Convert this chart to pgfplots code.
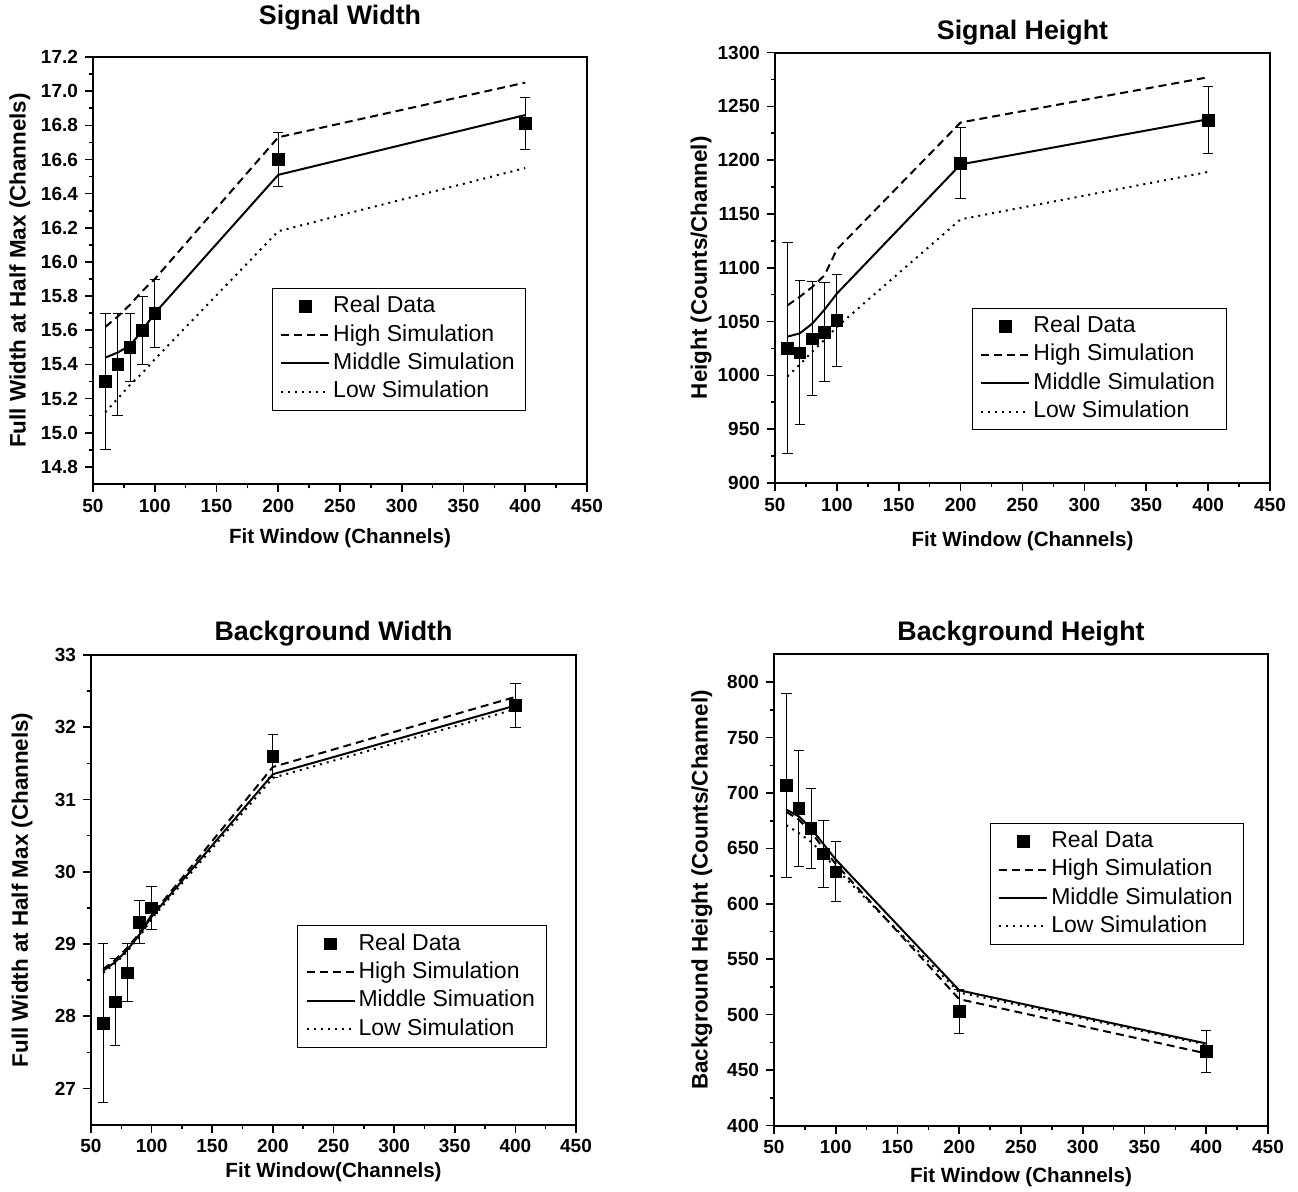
\documentclass[border=0pt]{standalone}
\usepackage{fontspec}
\setmainfont{Liberation Sans}
\usepackage{pgfplots}
\pgfplotsset{compat=1.18}

\pgfplotsset{
  panel/.style={
    scale only axis,
    axis line style={line width=1pt},
    tick align=outside, tick pos=left,
    major tick length=4pt, minor tick length=2.2pt,
    every tick/.style={black, line width=0.8pt},
    minor tick num=1,
    xmin=50, xmax=450, xtick={50,100,...,450},
    tick label style={font=\bfseries\fontsize{9.5}{11}\selectfont},
    /pgf/number format/assume math mode=true,
    /pgf/number format/1000 sep={},
    xlabel style={font=\bfseries\fontsize{10.3}{12}\selectfont, at={(axis description cs:0.5,0)}, anchor=center},
    ylabel style={font=\bfseries\fontsize{11.2}{13}\selectfont},
    title style={font=\bfseries\fontsize{13.4}{15}\selectfont, at={(axis description cs:0.5,1)}, anchor=center},
    legend cell align=left,
    legend style={draw=black, font=\fontsize{11.5}{13}\selectfont, inner xsep=4pt, inner ysep=2pt, anchor=north west,
      nodes={inner sep=1.5pt, text height=8.6pt, text depth=2.6pt}},
    legend image code/.code={\draw[#1] (0pt,0pt) -- (24pt,0pt);},
  },
  realdata/.style={black, fill=black, only marks, mark=square*, mark size=2.9pt,
    legend image code/.code={\path (0pt,0pt) (24pt,0pt); \draw[black, fill=black, mark=square*, mark size=2.9pt, only marks] plot coordinates {(12pt,0pt)};},
    error bars/.cd, y dir=both, y explicit,
    error bar style={line width=0.5pt, black},
    error mark options={rotate=90, mark size=2.6pt, line width=0.5pt, black}},
  highsim/.style={black, line width=1pt, dash pattern=on 4pt off 2.5pt, no marks},
  midsim/.style={black, line width=1pt, solid, no marks},
  lowsim/.style={black, line width=1pt, dash pattern=on 1pt off 2.5pt, no marks},
}

\begin{document}
\begin{tikzpicture}
\useasboundingbox (0,0) rectangle (649pt,-596pt);

% ---------------- Signal Width ----------------
\begin{axis}[panel, at={(46.5pt,-242pt)}, anchor=south west, width=247pt, height=213.5pt,
  ymin=14.7, ymax=17.2,
  ytick={14.8,15,15.2,15.4,15.6,15.8,16,16.2,16.4,16.6,16.8,17,17.2},
  yticklabel style={/pgf/number format/.cd, fixed, fixed zerofill, precision=1},
  title={Signal Width}, title style={yshift=13.5pt},
  xlabel={Fit Window (Channels)}, xlabel style={yshift=-27pt},
  ylabel={Full Width at Half Max (Channels)}, ylabel style={at={(axis description cs:-0.148,0.5)}, anchor=center},
  legend style={at={(axis description cs:0.362,0.459)}},
]
\addplot[realdata] table[x=x, y=y, y error=e] {
x y e
60 15.30 0.40
70 15.40 0.30
80 15.50 0.20
90 15.60 0.20
100 15.70 0.20
200 16.60 0.16
400 16.81 0.15
};
\addlegendentry{Real Data}
\addplot[highsim] table {
60 15.62
70 15.68
80 15.75
90 15.83
100 15.90
200 16.73
400 17.05
};
\addlegendentry{High Simulation}
\addplot[midsim] table {
60 15.44
70 15.47
80 15.51
90 15.60
100 15.70
200 16.51
400 16.86
};
\addlegendentry{Middle Simulation}
\addplot[lowsim] table {
60 15.12
70 15.20
80 15.28
90 15.35
100 15.43
200 16.18
400 16.55
};
\addlegendentry{Low Simulation}
\end{axis}

% ---------------- Signal Height ----------------
\begin{axis}[panel, at={(387.5pt,-241.5pt)}, anchor=south west, width=247.5pt, height=215.25pt,
  ymin=900, ymax=1300, ytick={900,950,...,1300},
  title={Signal Height}, title style={yshift=3.75pt},
  xlabel={Fit Window (Channels)}, xlabel style={yshift=-29pt},
  ylabel={Height (Counts/Channel)}, ylabel style={at={(axis description cs:-0.149,0.5)}, anchor=center},
  legend style={at={(axis description cs:0.398,0.407)}},
]
\addplot[realdata] table[x=x, y=y, y error=e] {
x y e
60 1025 98
70 1021 67
80 1034 53
90 1040 46
100 1051 43
200 1197 33
400 1237 31
};
\addlegendentry{Real Data}
\addplot[highsim] table {
60 1065
70 1073
80 1082
90 1093
100 1117
200 1235
400 1277
};
\addlegendentry{High Simulation}
\addplot[midsim] table {
60 1036
70 1039
80 1048
90 1061
100 1076
200 1196
400 1238
};
\addlegendentry{Middle Simulation}
\addplot[lowsim] table {
60 999
70 1010
80 1022
90 1033
100 1045
200 1145
400 1189
};
\addlegendentry{Low Simulation}
\end{axis}

% ---------------- Background Width ----------------
\begin{axis}[panel, at={(45.5pt,-562.3pt)}, anchor=south west, width=242.5pt, height=234.8pt,
  ymin=26.5, ymax=33, ytick={27,28,...,33},
  title={Background Width}, title style={yshift=4.5pt},
  xlabel={Fit Window(Channels)}, xlabel style={yshift=-24pt},
  ylabel={Full Width at Half Max (Channels)}, ylabel style={at={(axis description cs:-0.142,0.5)}, anchor=center},
  legend style={at={(axis description cs:0.425,0.424)}},
]
\addplot[realdata] table[x=x, y=y, y error=e] {
x y e
60 27.9 1.1
70 28.2 0.6
80 28.6 0.4
90 29.3 0.3
100 29.5 0.3
200 31.6 0.3
400 32.3 0.3
};
\addlegendentry{Real Data}
\addplot[highsim] table {
60 28.65
70 28.78
80 28.95
90 29.15
100 29.40
200 31.45
400 32.42
};
\addlegendentry{High Simulation}
\addplot[midsim] table {
60 28.63
70 28.75
80 28.92
90 29.13
100 29.38
200 31.35
400 32.30
};
\addlegendentry{Middle Simuation}
\addplot[lowsim] table {
60 28.60
70 28.73
80 28.90
90 29.10
100 29.35
200 31.30
400 32.25
};
\addlegendentry{Low Simulation}
\end{axis}

% ---------------- Background Height ----------------
\begin{axis}[panel, at={(387pt,-562.75pt)}, anchor=south west, width=247pt, height=235.5pt,
  ymin=400, ymax=825, ytick={400,450,...,800},
  title={Background Height}, title style={yshift=4.5pt},
  xlabel={Fit Window (Channels)}, xlabel style={yshift=-26pt},
  ylabel={Background Height (Counts/Channel)}, ylabel style={at={(axis description cs:-0.146,0.5)}, anchor=center},
  legend style={at={(axis description cs:0.437,0.643)}},
]
\addplot[realdata] table[x=x, y=y, y error=e] {
x y e
60 707 83
70 686 52
80 668 36
90 645 30
100 629 27
200 503 20
400 467 19
};
\addlegendentry{Real Data}
\addplot[highsim] table {
60 683
70 676
80 665
90 650
100 636
200 514
400 465
};
\addlegendentry{High Simulation}
\addplot[midsim] table {
60 685
70 679
80 668
90 654
100 640
200 522
400 474
};
\addlegendentry{Middle Simulation}
\addplot[lowsim] table {
60 671
70 664
80 656
90 645
100 632
200 520
400 473
};
\addlegendentry{Low Simulation}
\end{axis}
\end{tikzpicture}
\end{document}
